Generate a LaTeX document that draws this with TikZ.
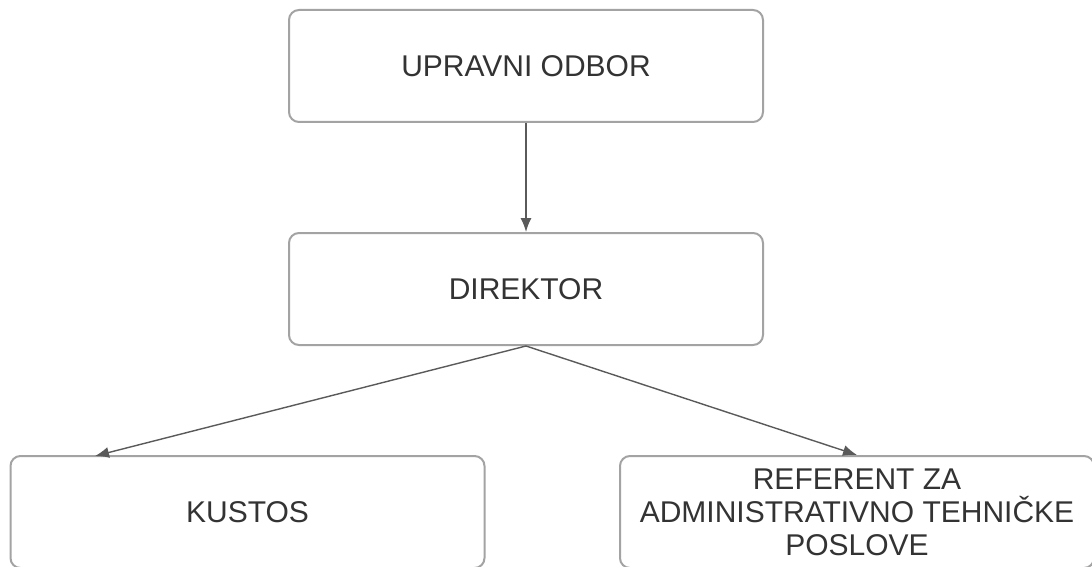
\documentclass[tikz,border=0pt]{standalone}
\usepackage{fontspec}
\setmainfont{Liberation Sans}
\usetikzlibrary{arrows.meta}
\definecolor{boxline}{HTML}{A3A3A3}
\definecolor{arrowline}{HTML}{5A5A5A}
\definecolor{txt}{HTML}{333333}
\tikzset{
    orgbox/.style={draw=boxline, line width=2pt, rounded corners=10pt, fill=white,
        minimum width=474pt, minimum height=112pt, align=center, text=txt,
        font=\fontsize{30}{33}\selectfont, inner sep=0pt},
    orgarrow/.style={-{Latex[length=14pt,width=11pt]}, draw=arrowline, line width=1.4pt}
}
\begin{document}
\begin{tikzpicture}[x=1pt,y=-1pt]
\useasboundingbox (0,0) rectangle (1092,567);
\clip (0,0) rectangle (1092,567);

\node[orgbox] (upravni) at (526,66) {UPRAVNI ODBOR};
\node[orgbox] (direktor) at (526,289) {DIREKTOR};
\node[orgbox] (kustos) at (247.5,512) {KUSTOS};
\node[orgbox] (referent) at (857,512) {REFERENT ZA\\ADMINISTRATIVNO TEHNIČKE\\POSLOVE};

\coordinate (kustosin) at (95,456);

\draw[orgarrow] (upravni.south) -- (direktor.north);
\draw[orgarrow] (direktor.south) -- (kustosin);
\draw[orgarrow] (direktor.south) -- (referent.north);
\end{tikzpicture}
\end{document}
